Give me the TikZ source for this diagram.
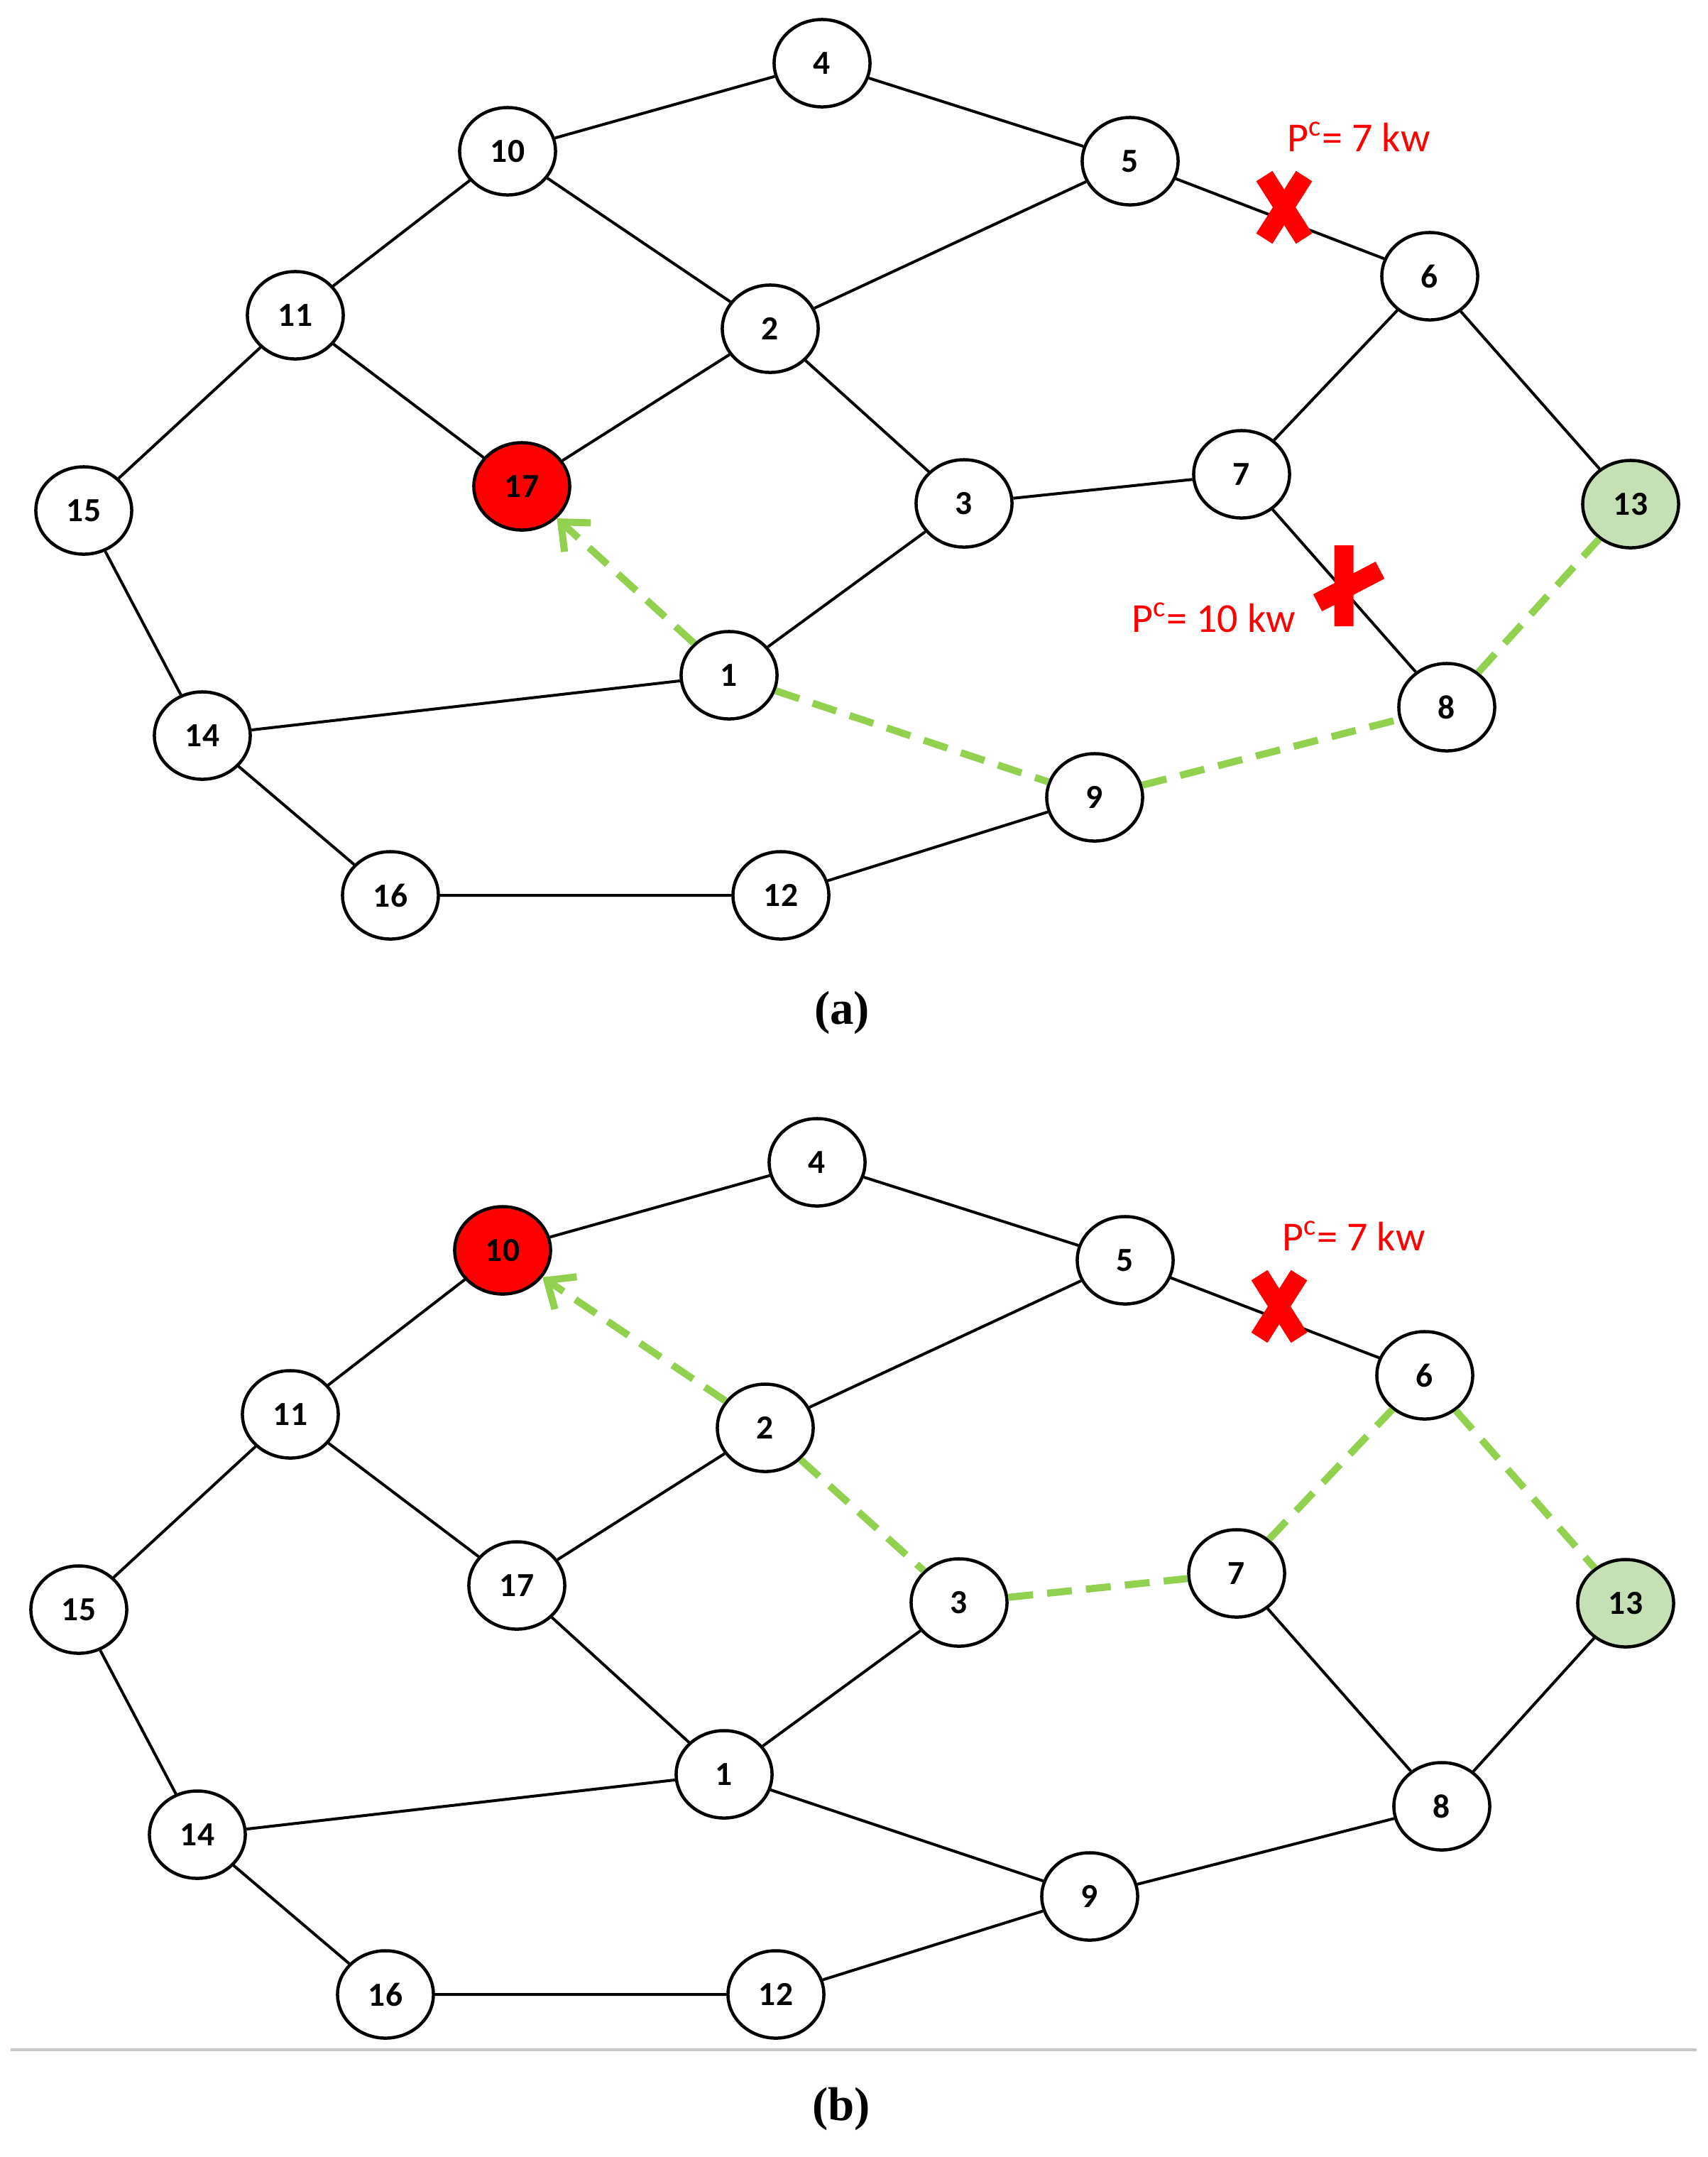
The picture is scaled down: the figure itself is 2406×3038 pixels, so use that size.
\documentclass[tikz,border=0pt]{standalone}
\usepackage{fontspec}
\setmainfont{Carlito}
\newfontfamily\capfont{Liberation Serif}
\usetikzlibrary{arrows.meta,shapes.geometric}
\definecolor{pathgreen}{HTML}{92D050}
\definecolor{srcgreen}{HTML}{C5E0B4}
\definecolor{rulegray}{HTML}{C8C8C8}

\begin{document}
\begin{tikzpicture}[
  x=0.01cm,y=-0.01cm,
  bus/.style={draw=black,ellipse,line width=0.45mm,fill=white,inner sep=0pt,
              minimum width=13.5mm,minimum height=12.3mm,
              font=\fontsize{13.5}{15}\selectfont\bfseries},
  fault/.style={bus,fill=red},
  source/.style={bus,fill=srcgreen},
  line/.style={line width=0.4mm,black},
  restore/.style={draw=pathgreen,line width=1mm,dash pattern=on 3.5mm off 2mm},
  restorearr/.style={restore,-{Straight Barb[length=3.2mm,width=5.5mm]}},
  cut/.style={red,line width=2.7mm},
  load/.style={text=red,inner sep=0pt,font=\fontsize{16.5}{18}\selectfont},
  caption/.style={inner sep=0pt,font=\capfont\fontsize{19}{22}\selectfont\bfseries}
]
\useasboundingbox (0,0) rectangle (2406,3038);

% (a) fault on 17
\node[bus] (a4) at (1158,89) {4};
\node[bus] (a10) at (715,213) {10};
\node[bus] (a5) at (1592,227) {5};
\node[bus] (a6) at (2014,389) {6};
\node[bus] (a11) at (416,444) {11};
\node[bus] (a2) at (1085,463) {2};
\node[fault] (a17) at (735,685) {17};
\node[bus] (a3) at (1358,709) {3};
\node[bus] (a7) at (1749,668) {7};
\node[source] (a13) at (2297,710) {13};
\node[bus] (a15) at (118,719) {15};
\node[bus] (a1) at (1027,951) {1};
\node[bus] (a14) at (285,1036) {14};
\node[bus] (a8) at (2038,996) {8};
\node[bus] (a9) at (1542,1123) {9};
\node[bus] (a16) at (550,1261) {16};
\node[bus] (a12) at (1100,1261) {12};
\draw[line] (a4)--(a10) (a4)--(a5) (a10)--(a11) (a10)--(a2) (a5)--(a2) (a5)--(a6)
  (a6)--(a7) (a6)--(a13) (a11)--(a15) (a11)--(a17) (a2)--(a17) (a2)--(a3)
  (a3)--(a7) (a3)--(a1) (a7)--(a8) (a15)--(a14) (a14)--(a1) (a14)--(a16)
  (a16)--(a12) (a12)--(a9);
\draw[restore] (a1)--(a9) (a9)--(a8) (a8)--(a13);
\draw[restorearr] (a1)--(a17);
\coordinate (cutA) at (1809,292);
\coordinate (cutB) at (1893,825);
\draw[cut] (cutA) ++(-28,-44) -- ++(56,88) (cutA) ++(28,-44) -- ++(-56,88);
\draw[cut] (cutB) ++(0,-57) -- ++(0,114) (cutB) ++(-37,24) -- ++(88,-46);
\node[load] (pA) at (1914,193) {P\textsuperscript{c}= 7 kw};
\node[load] (pB) at (1710,870) {P\textsuperscript{c}= 10 kw};
\node[caption] (capa) at (1186,1426) {(a)};

% (b) fault on 10
\begin{scope}[shift={(-7,1548)}]
\node[bus] (b4) at (1158,89) {4};
\node[fault] (b10) at (715,213) {10};
\node[bus] (b5) at (1592,227) {5};
\node[bus] (b6) at (2014,389) {6};
\node[bus] (b11) at (416,444) {11};
\node[bus] (b2) at (1085,463) {2};
\node[bus] (b17) at (735,685) {17};
\node[bus] (b3) at (1358,709) {3};
\node[bus] (b7) at (1749,668) {7};
\node[source] (b13) at (2297,710) {13};
\node[bus] (b15) at (118,719) {15};
\node[bus] (b1) at (1027,951) {1};
\node[bus] (b14) at (285,1036) {14};
\node[bus] (b8) at (2038,996) {8};
\node[bus] (b9) at (1542,1123) {9};
\node[bus] (b16) at (550,1261) {16};
\node[bus] (b12) at (1100,1261) {12};
\coordinate (cutC) at (1809,292);
\node[load] (pC) at (1914,193) {P\textsuperscript{c}= 7 kw};
\end{scope}
\draw[line] (b4)--(b10) (b4)--(b5) (b10)--(b11) (b5)--(b2) (b5)--(b6)
  (b11)--(b15) (b11)--(b17) (b17)--(b2) (b17)--(b1) (b1)--(b3) (b1)--(b14)
  (b1)--(b9) (b15)--(b14) (b14)--(b16) (b16)--(b12) (b12)--(b9) (b9)--(b8)
  (b8)--(b7) (b8)--(b13);
\draw[restore] (b2)--(b3) (b3)--(b7) (b7)--(b6) (b6)--(b13);
\draw[restorearr] (b2)--(b10);
\draw[cut] (cutC) ++(-28,-44) -- ++(56,88) (cutC) ++(28,-44) -- ++(-56,88);

\draw[rulegray,line width=0.4mm] (15,2887) -- (2390,2887);
\node[caption] (capb) at (1185,2970) {(b)};
\end{tikzpicture}
\end{document}
